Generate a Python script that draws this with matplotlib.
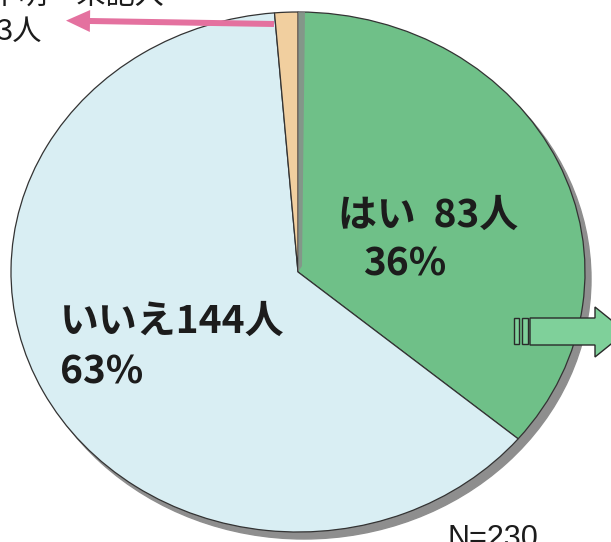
import matplotlib
matplotlib.use("Agg")
import matplotlib.pyplot as plt
from matplotlib.patches import Ellipse, Polygon, FancyArrow

plt.rcParams['font.family'] = ['Noto Sans CJK JP', 'DejaVu Sans']

# data
labels = ["はい", "いいえ", "不明・未記入"]
counts = [83, 144, 3]
percents = ["36%", "63%", ""]
total_n = 230
colors = ["#6fc088", "#d9eef3", "#f1cf9f"]

W, H = 611, 542
cx, cy = 298, 272          # pie centre in pixels (from top)
rx, ry = 287, 260          # the scanned pie is a bit squashed
k = rx / ry

fig = plt.figure(figsize=(W / 100, H / 100), dpi=100)

# pie axes: x in pixels, y stretched so a circle of radius rx looks ry tall
ax = fig.add_axes([0, 0, 1, 1])
cy_data = (H - cy) * k
shadow = Ellipse((cx + 6, cy_data - 7 * k), 2 * rx, 2 * rx, color="#8e8e8e", zorder=0)
ax.add_patch(shadow)
ax.pie(counts, colors=colors, startangle=90, counterclock=False,
       center=(cx, cy_data), radius=rx,
       wedgeprops=dict(edgecolor="#333333", linewidth=0.9))
ax.set_aspect("auto")
ax.set_xlim(0, W)
ax.set_ylim(0, H * k)
ax.axis("off")

# overlay axes in pixel coords (origin top-left) for text and arrows
ov = fig.add_axes([0, 0, 1, 1])
ov.set_xlim(0, W)
ov.set_ylim(H, 0)
ov.axis("off")
ov.patch.set_alpha(0)

# grey strip at the edge of the green slice
ov.add_patch(Polygon([(298, 12), (305, 12), (302, 266), (298, 272)],
                     closed=True, color="#8a8a8a", alpha=0.75, lw=0))

txt = dict(fontweight="bold", color="#1c1c1c", fontsize=28, va="baseline")
ov.text(338, 227, f"{labels[0]}  {counts[0]}人", **txt)
ov.text(363, 275, percents[0], **txt)
ov.text(60, 333, f"{labels[1]}{counts[1]}人", **txt)
ov.text(60, 383, percents[1], **txt)

small = dict(color="#1c1c1c", fontsize=21, va="baseline")
ov.text(-10, 5, labels[2], **small)
ov.text(-4, 40, f"{counts[2]}人", **small)

# pink arrow pointing to the small slice
ov.add_patch(FancyArrow(274, 24, -184, -3, width=6, head_width=22, head_length=24,
                        length_includes_head=False, color="#e4719f", lw=0))

# green block arrow on the right
ov.add_patch(Polygon([(514, 318), (519, 318), (519, 344), (514, 344)],
                     closed=True, fc="#7fd09a", ec="#2a2a2a", lw=1))
ov.add_patch(Polygon([(522, 318), (528, 318), (528, 344), (522, 344)],
                     closed=True, fc="#7fd09a", ec="#2a2a2a", lw=1))
ov.add_patch(Polygon([(530, 318), (595, 318), (595, 307), (626, 332),
                      (595, 357), (595, 345), (530, 345)],
                     closed=True, fc="#7fd09a", ec="#2a2a2a", lw=1))

ov.text(447, 547, f"N={total_n}", fontsize=22, color="#1c1c1c",
        family=["Liberation Sans", "DejaVu Sans"], va="baseline")

fig.savefig("out.png", dpi=100)
